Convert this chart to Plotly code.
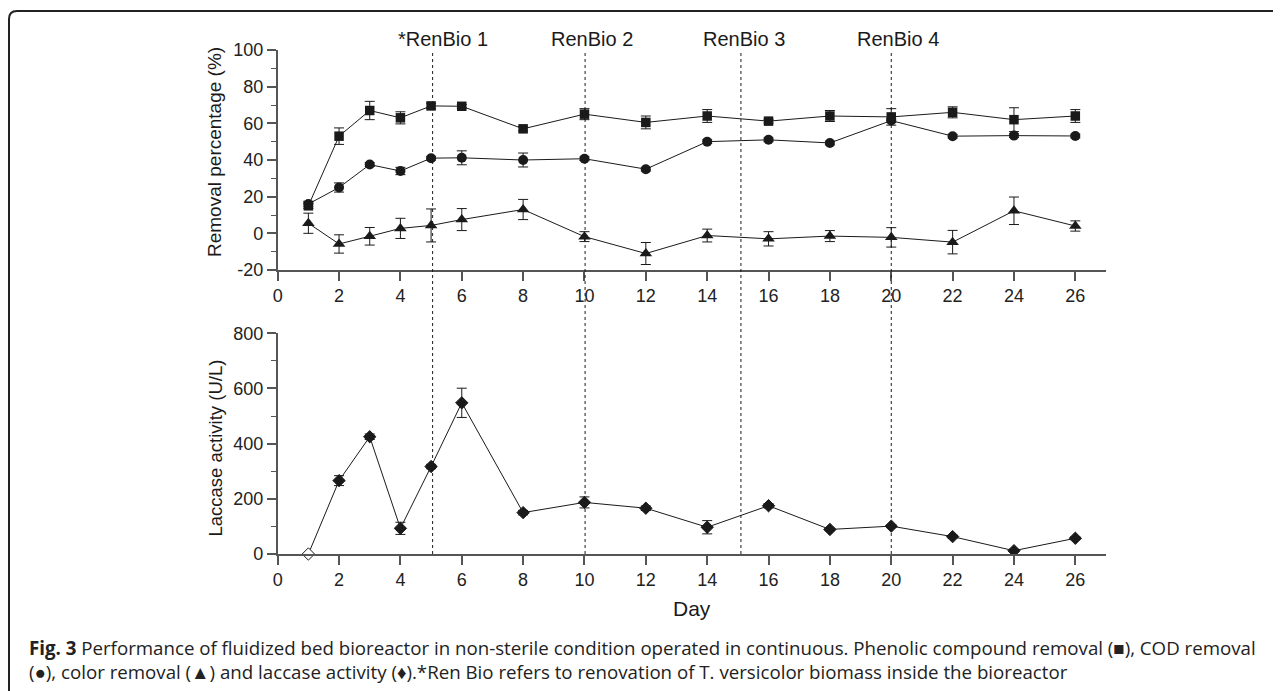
import plotly.graph_objects as go

# ---- data ----
days = [1, 2, 3, 4, 5, 6, 8, 10, 12, 14, 16, 18, 20, 22, 24, 26]
phenolic = [15, 53, 67, 63, 69.5, 69.3, 57, 65, 60.5, 64, 61.2, 64, 63.5, 66, 62, 64]
phenolic_err = [1.5, 4.5, 5, 3.3, 1.5, 1, 1.2, 3, 3.5, 3.5, 1, 3, 4.5, 3, 6.5, 3.5]
cod = [16, 25, 37.5, 34, 41, 41.2, 40, 40.7, 35, 50, 51, 49.3, 61.5, 53, 53.3, 53.1]
cod_err = [1.5, 2.5, 1, 2, 1, 3.8, 3.8, 1, 1, 1, 1, 1, 1, 1, 1, 1]
color_rm = [5.5, -5.8, -1.6, 2.7, 4.3, 7.5, 13, -1.8, -11, -1.2, -3, -1.5, -2.2, -4.8, 12.3, 4]
color_err = [5.5, 5, 4.8, 5.5, 9, 6, 5.5, 2.7, 6, 3.5, 3.9, 3, 5.3, 6.4, 7.5, 2.8]
laccase = [0, 266, 425, 93, 317, 548, 150, 187, 166, 97, 175, 89, 101, 63, 12, 57]
laccase_err = [0, 18, 10, 22, 8, 53, 8, 20, 8, 24, 8, 5, 5, 5, 5, 5]

renbio_days = [5.05, 10.02, 15.1, 20.0]
renbio_labels = ["*RenBio 1", "RenBio 2", "RenBio 3", "RenBio 4"]
label_offsets = [0.34, 0.22, 0.11, 0.22]

x_ticks = list(range(0, 27, 2))
top_ticks = [-20, 0, 20, 40, 60, 80, 100]
top_tick_text = ["-20", "0", "20", "40", "60", "80", "100"]
bot_ticks = [0, 200, 400, 600, 800]

y_title_top = "Removal percentage (%)"
y_title_bot = "Laccase activity (U/L)"
x_title = "Day"
caption_1 = ("<b>Fig. 3</b> Performance of fluidized bed bioreactor in non-sterile condition operated in "
             "continuous. Phenolic compound removal (\u25a0), COD removal")
caption_2 = ("(\u25cf), color removal (\u25b2) and laccase activity (\u2666).*Ren Bio refers to renovation "
             "of T. versicolor biomass inside the bioreactor")

W, H = 1281, 691
OFF = 8  # page body margin compensation
SANS = "Liberation Sans, Arial, sans-serif"
INK = "#1a1a1a"
AX = "#555555"

def fx(px):
    return (px - OFF) / W

def fy(py):
    return 1 - (py - OFF) / H

fig = go.Figure()

def err(vals):
    return dict(type="data", array=vals, visible=True, color=INK, thickness=1, width=5)

fig.add_trace(go.Scatter(x=days, y=phenolic, error_y=err(phenolic_err), mode="lines+markers",
                         line=dict(color=INK, width=1), marker=dict(symbol="square", size=9.5, color=INK),
                         xaxis="x", yaxis="y", cliponaxis=False, showlegend=False))
fig.add_trace(go.Scatter(x=days, y=cod, error_y=err(cod_err), mode="lines+markers",
                         line=dict(color=INK, width=1), marker=dict(symbol="circle", size=10, color=INK),
                         xaxis="x", yaxis="y", cliponaxis=False, showlegend=False))
fig.add_trace(go.Scatter(x=days, y=color_rm, error_y=err(color_err), mode="lines+markers",
                         line=dict(color=INK, width=1), marker=dict(symbol="triangle-up", size=11, color=INK),
                         xaxis="x", yaxis="y", cliponaxis=False, showlegend=False))
fill = ["white"] + [INK] * (len(days) - 1)
fig.add_trace(go.Scatter(x=days, y=laccase, error_y=err(laccase_err), mode="lines+markers",
                         line=dict(color=INK, width=1),
                         marker=dict(symbol="diamond", size=9.5, color=fill, line=dict(color=INK, width=1)),
                         xaxis="x2", yaxis="y2", cliponaxis=False, showlegend=False))

px_left, px_right = 277.7, 1106
top_y0, top_y1 = 270, 50
bot_y0, bot_y1 = 554, 333.3

axis_common = dict(showline=True, linecolor=AX, linewidth=1.5, ticks="outside", tickcolor=AX,
                   tickwidth=1.5, ticklen=9, showgrid=False, zeroline=False, automargin=False,
                   tickfont=dict(family=SANS, size=18, color="#222222"))

fig.update_layout(
    width=W, height=H, margin=dict(l=0, r=0, t=0, b=0, pad=0), autosize=False,
    paper_bgcolor="white", plot_bgcolor="white", showlegend=False,
    xaxis=dict(domain=[fx(px_left), fx(px_right)], range=[0, 27], tickvals=x_ticks, anchor="y",
               **axis_common),
    yaxis=dict(domain=[fy(top_y0), fy(top_y1)], range=[-20, 100], tickvals=top_ticks,
               ticktext=top_tick_text, anchor="x",
               minor=dict(dtick=10, ticks="outside", ticklen=5, tickcolor=AX, tickwidth=1.2),
               **axis_common),
    xaxis2=dict(domain=[fx(px_left), fx(px_right)], range=[0, 27], tickvals=x_ticks, anchor="y2",
                **axis_common),
    yaxis2=dict(domain=[fy(bot_y0), fy(bot_y1)], range=[0, 800], tickvals=bot_ticks,
                anchor="x2", minor=dict(dtick=100, ticks="outside", ticklen=5, tickcolor=AX, tickwidth=1.2),
                **axis_common),
)

shapes = []
for d in renbio_days:
    shapes.append(dict(type="line", xref="x", yref="paper", x0=d, x1=d,
                       y0=fy(554), y1=fy(53), line=dict(color=INK, width=1, dash="dot")))
# frame: top line + left line with rounded corner
xl, yt, r = fx(9), fy(11), 8
shapes.append(dict(type="path", xref="paper", yref="paper",
                   path=f"M {xl},0 L {xl},{yt - r / H} Q {xl},{yt} {xl + r / W},{yt} L 1,{yt}",
                   line=dict(color="#222222", width=2)))
fig.update_layout(shapes=shapes)

def pa(x, y, text, size, **kw):
    d = dict(x=fx(x), y=fy(y), xref="paper", yref="paper", text=text, showarrow=False,
             xanchor="center", yanchor="middle", font=dict(family=SANS, size=size, color=INK))
    d.update(kw)
    return d

ann = []
for d, lab, off in zip(renbio_days, renbio_labels, label_offsets):
    ann.append(dict(x=d + off, y=fy(39), xref="x", yref="paper", text=lab, showarrow=False,
                    font=dict(family=SANS, size=20, color=INK), xanchor="center", yanchor="middle"))
ann.append(pa(215, 152, y_title_top, 19, textangle=-90))
ann.append(pa(215, 448.5, y_title_bot, 18.5, textangle=-90))
ann.append(pa(692, 608, x_title, 21))
cap_font = dict(family="Open Sans, sans-serif", size=18.7, color="#222222")
ann.append(pa(27, 647, caption_1, 18.7, xanchor="left", font=cap_font))
ann.append(pa(27, 671, caption_2, 18.7, xanchor="left", font=cap_font))
fig.update_layout(annotations=ann)

fig.write_html("out.html")
